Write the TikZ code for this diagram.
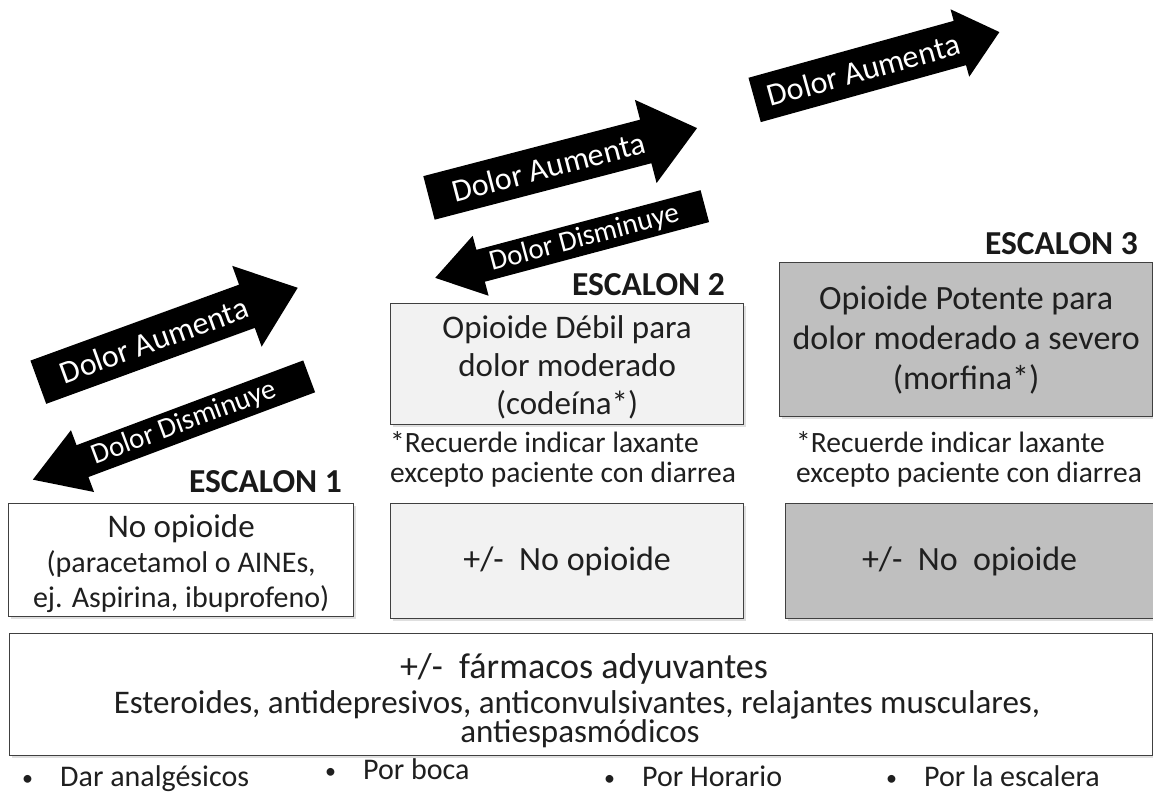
\documentclass[tikz,border=0pt]{standalone}
\usepackage{fontspec}
\usetikzlibrary{shadows}
\setmainfont{Carlito}
\newcommand{\aumfont}{\fontsize{32}{34}\selectfont}
\newcommand{\disfont}{\fontsize{29}{30}\selectfont}
\newcommand{\bulsym}{\makebox[38pt][l]{\fontsize{22}{22}\selectfont\raisebox{1pt}{•}}}
% #1 name, #2 centre, #3 angle, #4 length, #5 body width, #6 head width, #7 head length, #8 text offset, #9 text
\newcommand{\fatarrow}[9]{%
\begin{scope}[shift={#2}, rotate=#3]
\fill[arrowfill] ({-(#4)/2},{-(#5)/2}) -- ({(#4)/2-(#7)},{-(#5)/2}) -- ({(#4)/2-(#7)},{-(#6)/2}) -- ({(#4)/2},0) -- ({(#4)/2-(#7)},{(#6)/2}) -- ({(#4)/2-(#7)},{(#5)/2}) -- ({-(#4)/2},{(#5)/2}) -- cycle;
\node[arrowtext, rotate=#3] (#1) at (#8,0) {#9};
\end{scope}}
\begin{document}
\begin{tikzpicture}[x=1pt,y=-1pt,
  arrowfill/.style={fill=black},
  arrowtext/.style={text=white, inner sep=0pt},
  boxstyle/.style={draw=black!75, line width=1.3pt, inner sep=0pt, anchor=north west,
    drop shadow={opacity=0.25, shadow xshift=2pt, shadow yshift=-2pt}},
  boxtext/.style={align=center, text=black!88, inner sep=0pt},
  esc/.style={font=\bfseries\fontsize{33.5}{35}\selectfont, text=black!90, inner sep=0pt, anchor=base east},
  lax/.style={font=\fontsize{29.5}{30}\selectfont, text=black!88, inner sep=0pt, align=left, anchor=north west},
  bul/.style={font=\fontsize{30}{32}\selectfont, text=black!88, inner sep=0pt, anchor=base west}
]
\useasboundingbox (0,0) rectangle (1153,796);
\fill[white] (0,0) rectangle (1153,796);

% arrows
\fatarrow{a1u}{(168,335)}{20}{276}{46}{86}{54}{-15}{\aumfont Dolor Aumenta}
\fatarrow{a1d}{(171,428)}{20.5}{-295}{34}{66}{-53}{14}{\disfont Dolor Disminuye}
\fatarrow{a2u}{(563,163)}{14.6}{277}{45}{86}{53}{-15}{\aumfont Dolor Aumenta}
\fatarrow{a2d}{(570,242)}{14.9}{-279}{33}{62}{-47}{15}{\disfont Dolor Disminuye}
\fatarrow{a3u}{(877,66)}{15.5}{254}{46}{70}{41}{-14}{\aumfont Dolor Aumenta}

% step 1
\node[boxstyle, fill=white, minimum width=345pt, minimum height=113pt] (b1) at (8,503) {};
\node[boxtext, font=\fontsize{30}{35}\selectfont] (t1) at ([yshift=-3pt]b1.center) {{\fontsize{33}{35}\selectfont No opioide}\\(paracetamol o AINEs,\\ej. Aspirina, ibuprofeno)};
\node[esc] (e1) at (342,492) {ESCALON 1};

% step 2
\node[boxstyle, fill=black!5, minimum width=353pt, minimum height=121pt] (b2) at (390,303) {};
\node[boxtext, font=\fontsize{33}{38}\selectfont] (t2) at ([yshift=-3pt]b2.center) {Opioide Débil para\\dolor moderado\\(codeína*)};
\node[esc] (e2) at (725,295) {ESCALON 2};
\node[lax] (l2) at (390,431) {*Recuerde indicar laxante\\excepto paciente con diarrea};
\node[boxstyle, fill=black!5, minimum width=353pt, minimum height=115pt] (c2) at (390,503) {};
\node[boxtext, font=\fontsize{34}{40}\selectfont] (u2) at (c2.center) {+/-\ \ No opioide};

% step 3
\node[boxstyle, fill=black!25, minimum width=373pt, minimum height=154pt] (b3) at (779,262) {};
\node[boxtext, font=\fontsize{34}{40}\selectfont] (t3) at (b3.center) {Opioide Potente para\\dolor moderado a severo\\(morfina*)};
\node[esc] (e3) at (1138,254) {ESCALON 3};
\node[lax] (l3) at (796,431) {*Recuerde indicar laxante\\excepto paciente con diarrea};
\node[boxstyle, fill=black!25, minimum width=368pt, minimum height=115pt] (c3) at (785,503) {};
\node[boxtext, font=\fontsize{34}{40}\selectfont] (u3) at (c3.center) {+/-\ \ No\ \ opioide};

% adjuvants
\node[boxstyle, fill=white, minimum width=1143pt, minimum height=122pt] (b4) at (9,633) {};
\node[boxtext, font=\fontsize{36}{36}\selectfont, anchor=base] (t4a) at (584,678) {+/-\ \ fármacos adyuvantes};
\node[boxtext, font=\fontsize{33}{33}\selectfont, anchor=base] (t4b) at (577,713) {Esteroides, antidepresivos, anticonvulsivantes, relajantes musculares,};
\node[boxtext, font=\fontsize{33}{33}\selectfont, anchor=base] (t4c) at (580,742) {antiespasmódicos};

% bullets
\node[bul] (p1) at (22,786) {\bulsym Dar analgésicos};
\node[bul] (p2) at (325,779) {\bulsym Por boca};
\node[bul] (p3) at (604,786) {\bulsym Por Horario};
\node[bul] (p4) at (886,786) {\bulsym Por la escalera};
\end{tikzpicture}
\end{document}
